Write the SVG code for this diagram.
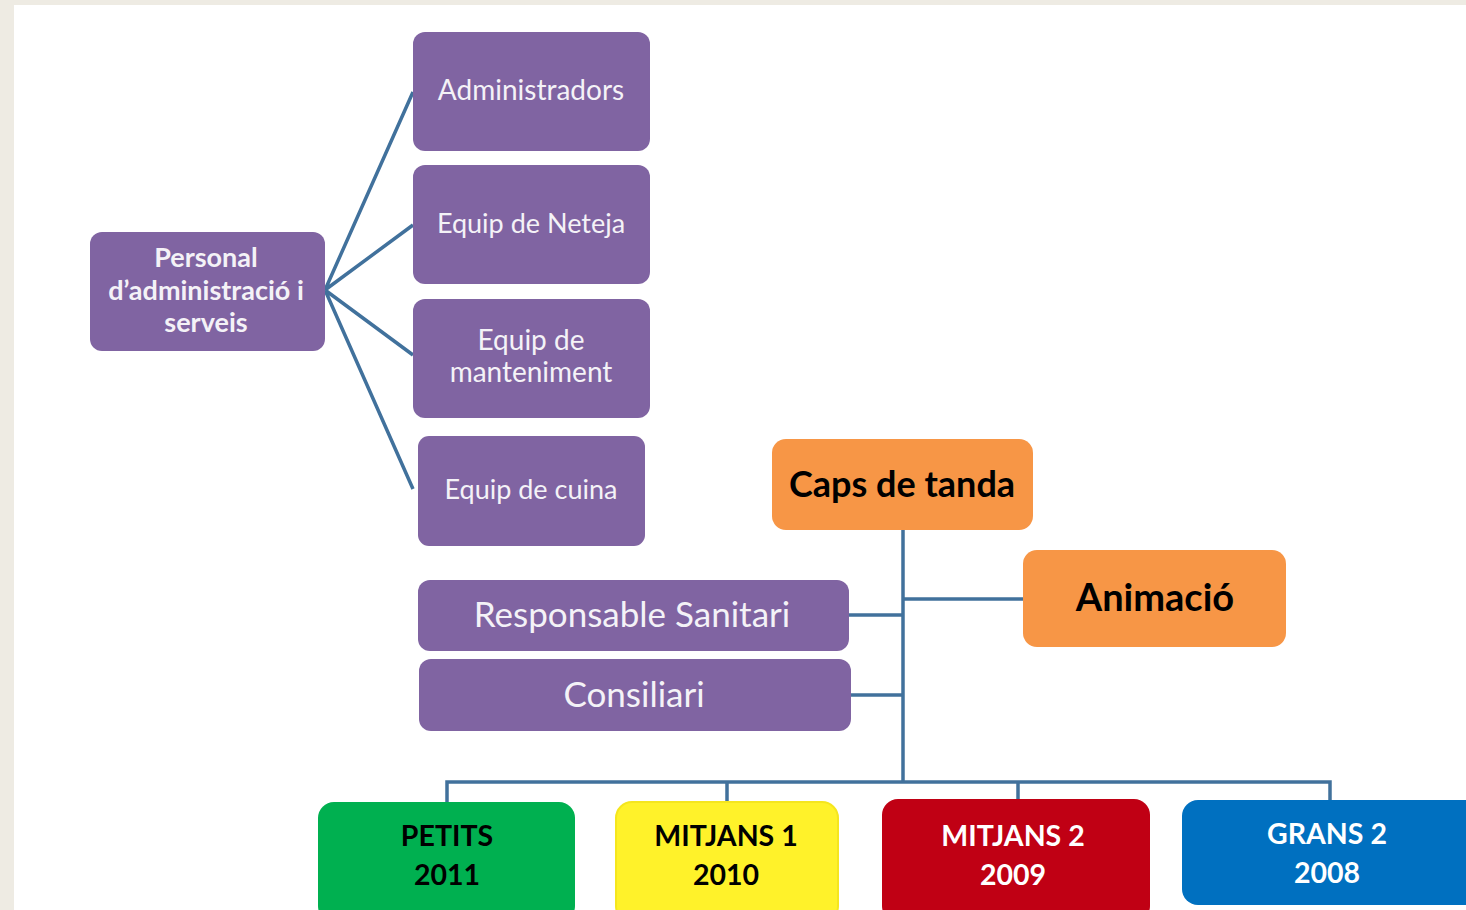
<svg xmlns="http://www.w3.org/2000/svg" width="1466" height="910" viewBox="0 0 1466 910">
<style>
.pur{fill:#8064A2}
.ptx{fill:#F4F2F7;font-family:Lato,"Open Sans",sans-serif;text-anchor:middle;dominant-baseline:central}
.ptb{fill:#F4F2F7;font-family:Lato,"Open Sans",sans-serif;font-weight:bold;text-anchor:middle;dominant-baseline:central}
.org{fill:#F79646}
.otx{fill:#000;font-family:Lato,"Open Sans",sans-serif;font-weight:bold;text-anchor:middle;dominant-baseline:central}
.btx{font-family:Lato,"Open Sans",sans-serif;font-weight:bold;text-anchor:middle;dominant-baseline:central;font-size:28.5px}
.con{stroke:#41719C;stroke-width:3.5;fill:none}
</style>
<rect x="0" y="0" width="1466" height="910" fill="#EEEBE3"/>
<rect x="14" y="5" width="1452" height="905" fill="#FFFFFF"/>
<g id="connectors">
<path class="con" d="M325 290 L413 92 M325 290 L413 225 M325 290 L413 355 M325 290 L413 489"/>
<path class="con" d="M903 530 V782 M903 599 H1023 M849 615 H903 M851 695 H903"/>
<path class="con" d="M447 802 V782 H1330 V800 M727 801 V782 M1018 799 V782"/>
</g>
<g id="personal">
<rect class="pur" x="90" y="232" width="235" height="119" rx="12"/>
<text class="ptb" x="206" y="256" font-size="27">Personal</text>
<text class="ptb" x="206" y="289" font-size="27">d’administració i</text>
<text class="ptb" x="206" y="321" font-size="27">serveis</text>
</g>
<g id="administradors">
<rect class="pur" x="413" y="32" width="237" height="119" rx="12"/>
<text class="ptx" x="531" y="89" font-size="28">Administradors</text>
</g>
<g id="neteja">
<rect class="pur" x="413" y="165" width="237" height="119" rx="12"/>
<text class="ptx" x="531" y="222" font-size="27">Equip de Neteja</text>
</g>
<g id="manteniment">
<rect class="pur" x="413" y="299" width="237" height="119" rx="12"/>
<text class="ptx" x="531" y="339" font-size="28">Equip de</text>
<text class="ptx" x="531" y="371" font-size="28">manteniment</text>
</g>
<g id="cuina">
<rect class="pur" x="418" y="436" width="227" height="110" rx="11"/>
<text class="ptx" x="531" y="488" font-size="27">Equip de cuina</text>
</g>
<g id="caps">
<rect class="org" x="772" y="439" width="261" height="91" rx="14"/>
<text class="otx" x="902" y="483" font-size="36">Caps de tanda</text>
</g>
<g id="animacio">
<rect class="org" x="1023" y="550" width="263" height="97" rx="14"/>
<text class="otx" x="1155" y="596" font-size="38">Animació</text>
</g>
<g id="sanitari">
<rect class="pur" x="418" y="580" width="431" height="71" rx="12"/>
<text class="ptx" x="632" y="613" font-size="35">Responsable Sanitari</text>
</g>
<g id="consiliari">
<rect class="pur" x="419" y="659" width="432" height="72" rx="12"/>
<text class="ptx" x="634" y="693" font-size="35">Consiliari</text>
</g>
<g id="petits">
<rect x="318" y="802" width="257" height="120" rx="16" fill="#00B050"/>
<text class="btx" x="447" y="835" fill="#000">PETITS</text>
<text class="btx" x="447" y="874" fill="#000">2011</text>
</g>
<g id="mitjans1">
<rect x="616" y="802" width="222" height="120" rx="16" fill="#FFF22A" stroke="#F5E61E" stroke-width="2"/>
<text class="btx" x="726" y="835" fill="#000">MITJANS 1</text>
<text class="btx" x="726" y="874" fill="#000">2010</text>
</g>
<g id="mitjans2">
<rect x="882" y="799" width="268" height="123" rx="16" fill="#C00014"/>
<text class="btx" x="1013" y="835" fill="#FFF">MITJANS 2</text>
<text class="btx" x="1013" y="874" fill="#FFF">2009</text>
</g>
<g id="grans2">
<rect x="1182" y="800" width="300" height="105" rx="16" fill="#0070C0"/>
<text class="btx" x="1327" y="833" fill="#FFF">GRANS 2</text>
<text class="btx" x="1327" y="872" fill="#FFF">2008</text>
</g>
</svg>
